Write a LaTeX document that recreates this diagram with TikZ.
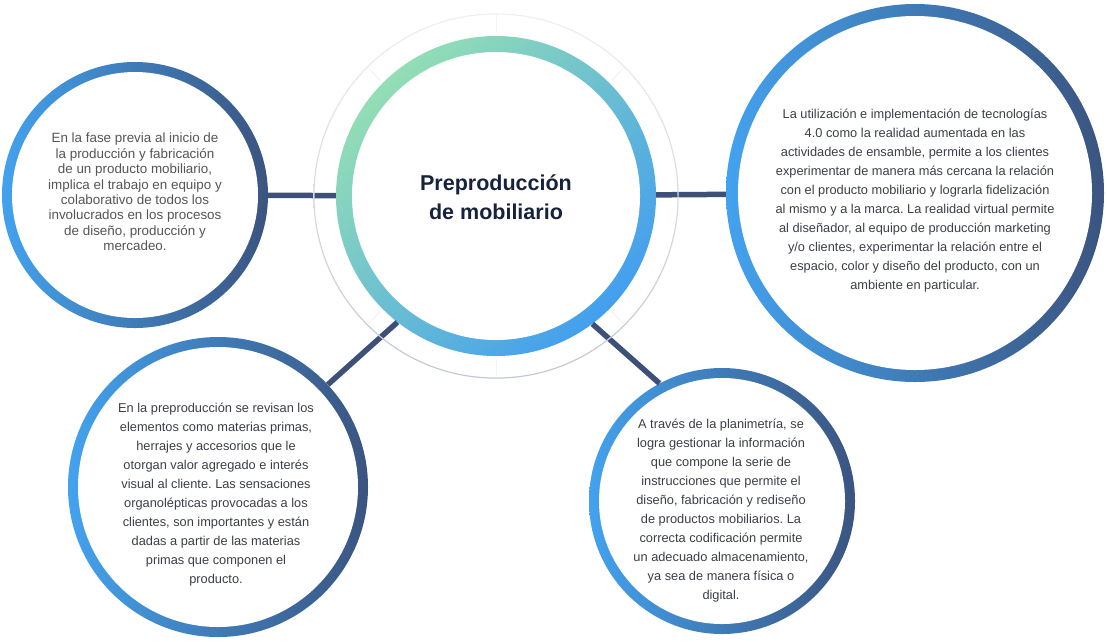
\documentclass[tikz,border=0pt]{standalone}
\usepackage{fontspec}
\setmainfont{Liberation Sans}
\frenchspacing
\usetikzlibrary{positioning}
\definecolor{azulclaro}{HTML}{43A2EE}
\definecolor{azulmarino}{HTML}{3B5480}
\definecolor{verdeagua}{HTML}{93DEB5}
\definecolor{azulvivo}{HTML}{439FEE}
\definecolor{enlacecol}{HTML}{3D5078}
\definecolor{grisanillo}{HTML}{C2C8D2}
\definecolor{grisclaro}{HTML}{EEEFF1}
\definecolor{grismarca}{HTML}{F4F4F6}
\definecolor{textogris}{HTML}{555555}
\definecolor{textoosc}{HTML}{3C3F47}
\definecolor{tituloazul}{HTML}{17233D}
\begin{document}
\begin{tikzpicture}[x=1pt,y=-1pt]
\tikzset{aro/.style={circle, inner sep=0pt, minimum size=#1, left color=azulclaro, right color=azulmarino},
  hueco/.style={circle, fill=white, inner sep=0pt, minimum size=#1},
  nota/.style={align=center, text=textoosc, inner sep=0pt, font=\fontsize{12.8}{19}\selectfont},
  enlace/.style={draw=enlacecol, line width=5.5pt}}
\useasboundingbox (0,0) rectangle (1107,641);
\node[circle, inner sep=0pt, minimum size=320pt, top color=verdeagua, bottom color=azulvivo, shading angle=45] (C) at (496,196) {};
\node[hueco=288pt] (Ch) at (C) {};
\node[aro=266pt] (L) at (135,195) {};
\node[hueco=246pt] (Lh) at (L) {};
\node[aro=378pt] (R) at (915,193) {};
\node[hueco=354pt] (Rh) at (R) {};
\node[aro=300pt] (BL) at (218,487) {};
\node[hueco=280pt] (BLh) at (BL) {};
\node[aro=266pt] (BR) at (722,501) {};
\node[hueco=246pt] (BRh) at (BR) {};
\foreach \a in {0,45,...,315}
  \draw[grismarca, line width=1pt] ([shift={(\a:163pt)}]C.center) -- ([shift={(\a:182pt)}]C.center);
\draw[enlace] (L) -- (C);
\draw[enlace] (C) -- (R);
\draw[enlace] (C.-128) -- (BL.43);
\draw[enlace] (C.-53) -- (BR.118);
\shade[top color=grisclaro, bottom color=grisanillo, even odd rule] (C.center) circle[radius=182.7pt] (C.center) circle[radius=181.5pt];
\node[font=\bfseries\fontsize{21.5}{29}\selectfont, text=tituloazul, align=center] (Ct) at (496,197.5) {Preproducción\\de mobiliario};
\node[align=center, text=textogris, inner sep=0pt, font=\fontsize{13.4}{15.4}\selectfont] (Lt) at (135,192) {En la fase previa al inicio de\\la producción y fabricación\\de un producto mobiliario,\\implica el trabajo en equipo y\\colaborativo de todos los\\involucrados en los procesos\\de diseño, producción y\\mercadeo.};
\node[nota] (Rt) at (915,200.5) {La utilización e implementación de tecnologías\\4.0 como la realidad aumentada en las\\actividades de ensamble, permite a los clientes\\experimentar de manera más cercana la relación\\con el producto mobiliario y lograrla fidelización\\al mismo y a la marca. La realidad virtual permite\\al diseñador, al equipo de producción marketing\\y/o clientes, experimentar la relación entre el\\espacio, color y diseño del producto, con un\\ambiente en particular.};
\node[nota] (BLt) at (216,495) {En la preproducción se revisan los\\elementos como materias primas,\\herrajes y accesorios que le\\otorgan valor agregado e interés\\visual al cliente. Las sensaciones\\organolépticas provocadas a los\\clientes, son importantes y están\\dadas a partir de las materias\\primas que componen el\\producto.};
\node[nota] (BRt) at (721,511) {A través de la planimetría, se\\logra gestionar la información\\que compone la serie de\\instrucciones que permite el\\diseño, fabricación y rediseño\\de productos mobiliarios. La\\correcta codificación permite\\un adecuado almacenamiento,\\ya sea de manera física o\\digital.};
\end{tikzpicture}
\end{document}
